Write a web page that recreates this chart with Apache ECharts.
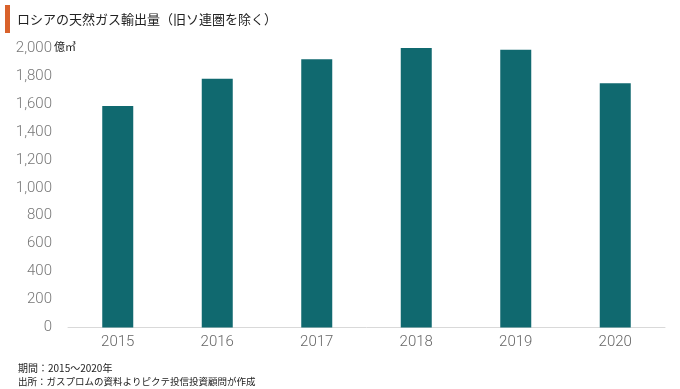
<!DOCTYPE html>
<html><head><meta charset="utf-8">
<script src="https://cdn.jsdelivr.net/npm/echarts@6/dist/echarts.min.js"></script>
<style>html,body{margin:0;padding:0;background:#fff}#c{width:680px;height:389px}</style>
</head><body><div id="c"></div>
<script>
const categories = ['2015','2016','2017','2018','2019','2020'];
const exportVolume = [1585, 1780, 1920, 2000, 1987, 1748];
const yTicks = {min: 0, max: 2000, interval: 200};
const titleText = 'ロシアの天然ガス輸出量（旧ソ連圏を除く）';
const unitText = '億㎥';
const noteLines = ['期間：2015～2020年', '出所：ガスプロムの資料よりピクテ投信投資顧問が作成'];

const chart = echarts.init(document.getElementById('c'), null, {renderer: 'canvas'});
const cjk = '"Noto Sans CJK JP", "Noto Sans", sans-serif';
chart.setOption({
  animation: false,
  grid: {left: 68, right: 15, top: 48, bottom: 61.5},
  xAxis: {
    type: 'category', data: categories,
    axisLine: {lineStyle: {color: '#d9d9d9', width: 1}},
    axisTick: {show: false},
    axisLabel: {color: '#666', fontSize: 15, fontFamily: 'Roboto', fontWeight: 300, margin: 7}
  },
  yAxis: {
    type: 'value', min: yTicks.min, max: yTicks.max, interval: yTicks.interval,
    axisLine: {show: false}, axisTick: {show: false}, splitLine: {show: false},
    axisLabel: {color: '#777', fontSize: 15, fontFamily: 'Roboto', fontWeight: 300, margin: 16,
      formatter: v => v.toLocaleString('en-US')}
  },
  series: [{
    type: 'bar', data: exportVolume, barWidth: 31,
    itemStyle: {color: '#10696f'}
  }],
  graphic: [
    {type: 'rect', shape: {x: 5, y: 5, width: 5, height: 28}, style: {fill: '#d9622b'}},
    {type: 'text', x: 17, y: 19, style: {text: titleText, font: '13px ' + cjk, fill: '#222', textVerticalAlign: 'middle'}},
    {type: 'text', x: 54, y: 47, style: {text: unitText, font: '11px ' + cjk, fill: '#222', textVerticalAlign: 'middle'}},
    {type: 'text', x: 18, y: 368, style: {text: noteLines[0], font: '10px ' + cjk, fill: '#222', textVerticalAlign: 'middle'}},
    {type: 'text', x: 18, y: 381, style: {text: noteLines[1], font: '9.5px ' + cjk, fill: '#222', textVerticalAlign: 'middle'}}
  ]
});
</script></body></html>
